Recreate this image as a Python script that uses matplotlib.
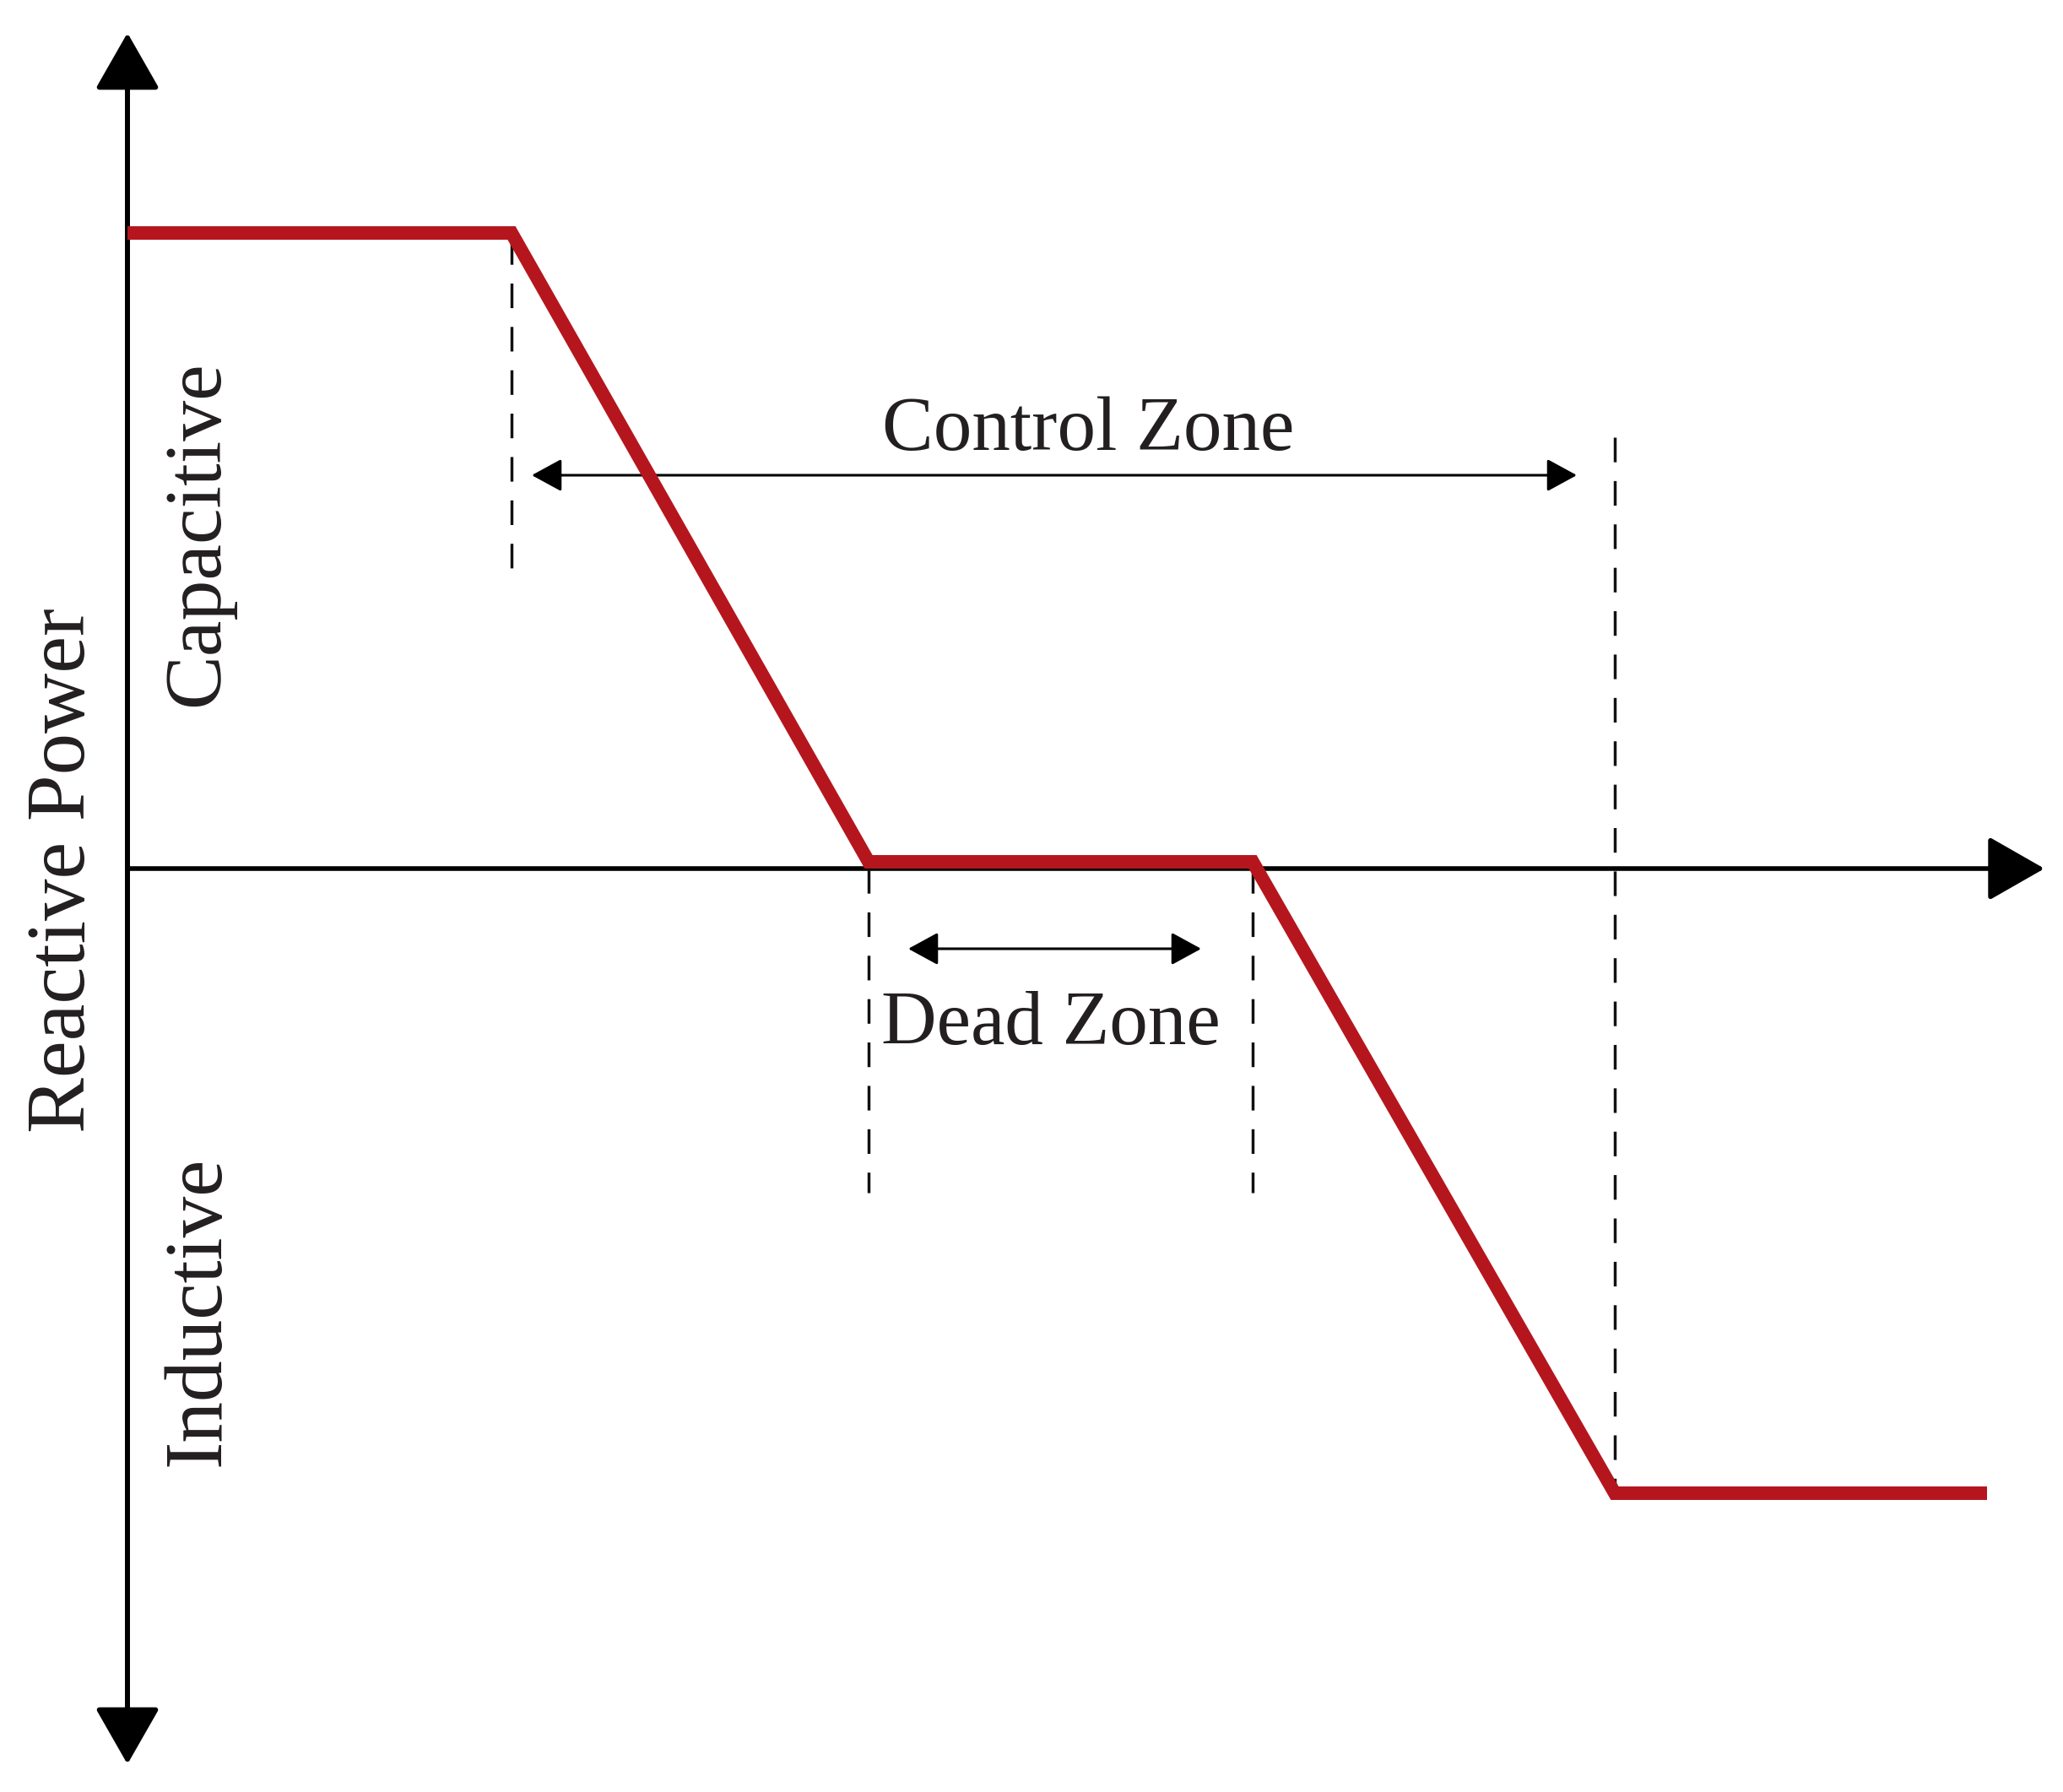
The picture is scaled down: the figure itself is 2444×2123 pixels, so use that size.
"""Reactive power vs voltage droop characteristic with dead zone."""

import matplotlib
matplotlib.use('Agg')
import matplotlib.pyplot as plt
from matplotlib.patches import FancyArrowPatch

# characteristic breakpoints (x: voltage-like axis, y: reactive power)
curve_x = [0.0, 4.55, 8.78, 13.33, 17.62, 22.03]
curve_y = [7.53, 7.53, 0.08, 0.08, -7.40, -7.40]

# dashed marker lines: x position, y start, y end
guide_x = [4.55, 8.78, 13.33, 17.62]
guide_top = [7.45, 0.0, 0.0, 5.11]
guide_bottom = [3.43, -3.84, -3.84, -7.40]

# zone arrows
control_span = [4.79, 17.17]
control_level = 4.66
dead_span = [9.25, 12.72]
dead_level = -0.95

# axis extents
y_axis_range = [-10.61, 9.90]
x_axis_end = 22.71

labels = {'control': 'Control Zone', 'dead': 'Dead Zone',
          'ylabel': 'Reactive Power', 'cap': 'Capacitive', 'ind': 'Inductive'}

RED = '#b5161e'
INK = '#231f20'
FONT = 'Liberation Serif'

plt.rcParams['lines.scale_dashes'] = False


def arrow(ax, start, end, style, lw, length, width):
    """Add a straight arrow between two data points."""
    patch = FancyArrowPatch(start, end,
                            arrowstyle='{0},head_length={1},head_width={2}'.format(
                                style, length, width),
                            mutation_scale=1, lw=lw, color='black',
                            shrinkA=0, shrinkB=0)
    ax.add_patch(patch)


def make_plot():
    fig = plt.figure(figsize=(24.44, 21.23), dpi=100)
    ax = fig.add_axes([0, 0, 1, 1])
    ax.set_xlim(-1.51, 22.93)
    ax.set_ylim(-10.94, 10.29)
    ax.axis('off')

    # axes with arrow heads
    arrow(ax, (0, y_axis_range[0]), (0, y_axis_range[1]), '<|-|>', 4.3, 42, 24)
    arrow(ax, (0, 0), (x_axis_end, 0), '-|>', 4.0, 42, 24)

    # dashed guides
    for gx, top, bot in zip(guide_x, guide_top, guide_bottom):
        ax.plot([gx, gx], [top, bot], color='#111111', lw=2.5,
                dashes=(21, 16), solid_capstyle='butt')

    # characteristic curve
    ax.plot(curve_x, curve_y, color=RED, lw=11.5,
            solid_joinstyle='miter', solid_capstyle='butt', zorder=5)

    # zone arrows
    arrow(ax, (control_span[0], control_level), (control_span[1], control_level),
          '<|-|>', 2.2, 22, 12)
    arrow(ax, (dead_span[0], dead_level), (dead_span[1], dead_level),
          '<|-|>', 2.2, 22, 12)

    ax.text(11.38, 4.96, labels['control'], ha='center', va='baseline',
            fontsize=65.5, family=FONT, color=INK)
    ax.text(10.94, -2.08, labels['dead'], ha='center', va='baseline',
            fontsize=65.5, family=FONT, color=INK)

    ax.text(-0.51, -0.02, labels['ylabel'], rotation=90, rotation_mode='anchor',
            ha='center', va='baseline', fontsize=71, family=FONT, color=INK)
    ax.text(1.07, 3.97, labels['cap'], rotation=90, rotation_mode='anchor',
            ha='center', va='baseline', fontsize=69, family=FONT, color=INK)
    ax.text(1.09, -5.24, labels['ind'], rotation=90, rotation_mode='anchor',
            ha='center', va='baseline', fontsize=70, family=FONT, color=INK)

    fig.savefig('out.png', dpi=100, facecolor='white')


if __name__ == '__main__':
    make_plot()
